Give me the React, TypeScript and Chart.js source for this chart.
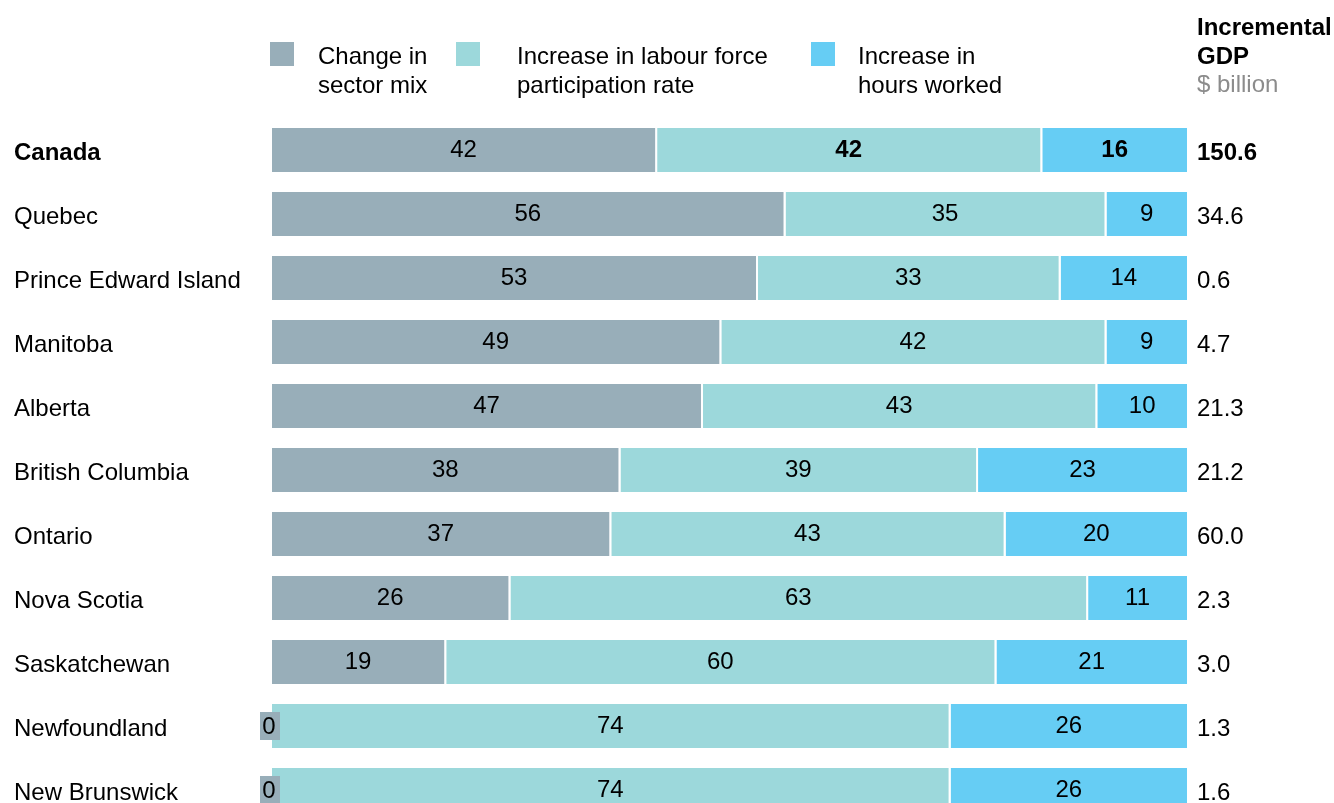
import React, { useEffect, useRef } from 'react';
import { Chart, registerables } from 'chart.js';

Chart.register(...registerables);

const regions = ['Canada', 'Quebec', 'Prince Edward Island', 'Manitoba', 'Alberta', 'British Columbia', 'Ontario', 'Nova Scotia', 'Saskatchewan', 'Newfoundland', 'New Brunswick'];
const sectorMix = [42, 56, 53, 49, 47, 38, 37, 26, 19, 0, 0];
const participation = [42, 35, 33, 42, 43, 39, 43, 63, 60, 74, 74];
const hoursWorked = [16, 9, 14, 9, 10, 23, 20, 11, 21, 26, 26];
const incrementalGdp = ['150.6', '34.6', '0.6', '4.7', '21.3', '21.2', '60.0', '2.3', '3.0', '1.3', '1.6'];
const seriesNames = [['Change in', 'sector mix'], ['Increase in labour force', 'participation rate'], ['Increase in', 'hours worked']];
const headerLines = ['Incremental', 'GDP'];
const unitLabel = '$ billion';

const COLORS = ['#98AEB9', '#9CD8DB', '#66CDF4'];
const FONT = '"Liberation Sans", Arial, sans-serif';
const SIZE = 24;

const overlay = {
  id: 'overlay',
  afterDatasetsDraw(chart: any) {
    const ctx = chart.ctx;
    ctx.save();
    ctx.textBaseline = 'middle';
    chart.data.datasets.forEach((ds: any, di: number) => {
      const meta = chart.getDatasetMeta(di);
      meta.data.forEach((bar: any, i: number) => {
        const v = ds.data[i];
        const bold = i === 0 && di > 0;
        ctx.font = `${bold ? 'bold ' : ''}${SIZE}px ${FONT}`;
        ctx.textAlign = 'center';
        const { x, base, y } = bar.getProps(['x', 'base', 'y'], true);
        if (v === 0) {
          ctx.fillStyle = ds.backgroundColor;
          ctx.fillRect(base - 12, y - 14, 20, 28);
          ctx.fillStyle = '#000';
          ctx.fillText('0', base - 3, y + 1);
        } else {
          ctx.fillStyle = '#000';
          ctx.fillText(String(v), (x + base) / 2 - 1, y);
        }
      });
    });
    const yScale = chart.scales.y;
    const rx = chart.chartArea.right + 8;
    ctx.textAlign = 'left';
    ctx.fillStyle = '#000';
    regions.forEach((name, i) => {
      const y = yScale.getPixelForValue(i);
      ctx.font = `${i === 0 ? 'bold ' : ''}${SIZE}px ${FONT}`;
      ctx.fillText(incrementalGdp[i], rx, y + 3);
      ctx.fillText(name, 14, y + 3);
    });
    ctx.restore();
  },
  afterDraw(chart: any) {
    const ctx = chart.ctx;
    ctx.save();
    ctx.textBaseline = 'middle';
    ctx.textAlign = 'left';
    const squares = [270, 456, 811];
    const texts = [318, 517, 858];
    seriesNames.forEach((lines, i) => {
      ctx.fillStyle = COLORS[i];
      ctx.fillRect(squares[i], 42, 24, 24);
      ctx.fillStyle = '#000';
      ctx.font = `${SIZE}px ${FONT}`;
      lines.forEach((t, k) => ctx.fillText(t, texts[i], 57 + k * 29));
    });
    const hx = chart.chartArea.right + 8;
    ctx.font = `bold ${SIZE}px ${FONT}`;
    headerLines.forEach((t, k) => ctx.fillText(t, hx, 28 + k * 29));
    ctx.font = `${SIZE}px ${FONT}`;
    ctx.fillStyle = '#8C8C8C';
    ctx.fillText(unitLabel, hx, 85);
    ctx.restore();
  },
};

export default function App() {
  const ref = useRef<HTMLCanvasElement>(null);
  useEffect(() => {
    if (!ref.current) return;
    const chart = new Chart(ref.current, {
      type: 'bar',
      data: {
        labels: regions,
        datasets: [sectorMix, participation, hoursWorked].map((d, i) => ({
          label: seriesNames[i].join(' '),
          data: d,
          backgroundColor: COLORS[i],
          borderColor: '#FFFFFF',
          borderWidth: { left: 0, right: 2, top: 0, bottom: 0 },
          borderSkipped: false,
          categoryPercentage: 1,
          barPercentage: 44 / 64,
        })),
      },
      options: {
        indexAxis: 'y',
        animation: false,
        responsive: false,
        devicePixelRatio: 1,
        layout: { padding: { left: 14, right: 145, top: 118, bottom: 8 } },
        plugins: { legend: { display: false }, tooltip: { enabled: false } },
        scales: {
          x: { stacked: true, min: 0, max: 100, display: false },
          y: {
            stacked: true,
            grid: { display: false },
            border: { display: false },
            afterFit: (scale: any) => { scale.width = 258; },
            ticks: { display: false },
          },
        },
      },
      plugins: [overlay],
    } as any);
    return () => chart.destroy();
  }, []);
  return (
    <div style={{ position: 'fixed', left: 0, top: 0, width: 1334, height: 803, overflow: 'hidden', background: '#fff' }}>
      <canvas ref={ref} width={1334} height={830} style={{ display: 'block' }} />
    </div>
  );
}
